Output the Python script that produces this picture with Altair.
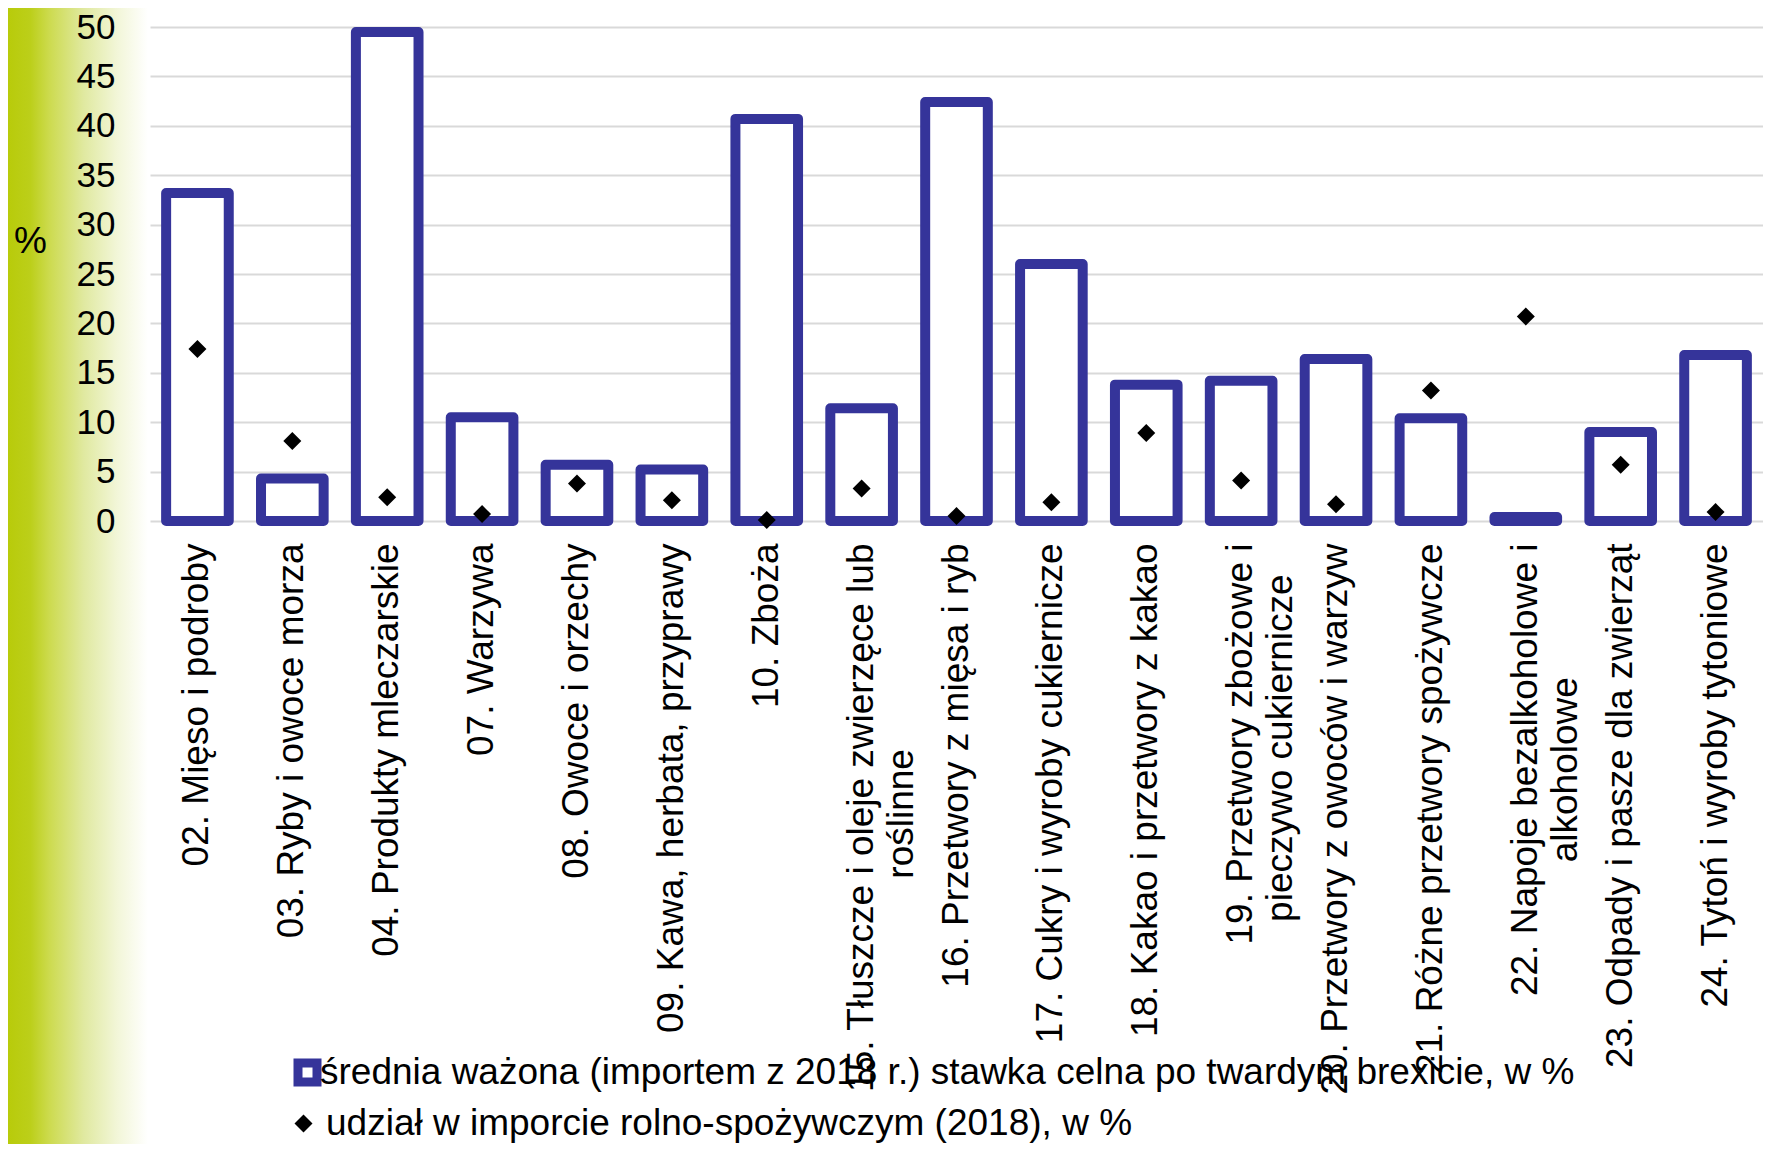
import altair as alt
import pandas as pd

categories = [
    "02. Mięso i podroby",
    "03. Ryby i owoce morza",
    "04. Produkty mleczarskie",
    "07. Warzywa",
    "08. Owoce i orzechy",
    "09. Kawa, herbata, przyprawy",
    "10. Zboża",
    "15. Tłuszcze i oleje zwierzęce lub\nroślinne",
    "16. Przetwory z mięsa i ryb",
    "17. Cukry i wyroby cukiernicze",
    "18. Kakao i przetwory z kakao",
    "19. Przetwory zbożowe i\npieczywo cukiernicze",
    "20. Przetwory z owoców i warzyw",
    "21. Różne przetwory spożywcze",
    "22. Napoje bezalkoholowe i\nalkoholowe",
    "23. Odpady i pasze dla zwierząt",
    "24. Tytoń i wyroby tytoniowe",
]
tariff = [33.2, 4.3, 49.5, 10.5, 5.7, 5.2, 40.7, 11.4, 42.4, 26.0, 13.8, 14.2, 16.4, 10.4, 0.4, 9.0, 16.8]
share = [17.4, 8.1, 2.4, 0.7, 3.8, 2.1, 0.1, 3.3, 0.5, 1.9, 8.9, 4.1, 1.7, 13.2, 20.7, 5.7, 0.9]
y_ticks = [0, 5, 10, 15, 20, 25, 30, 35, 40, 45, 50]
series_tariff = "średnia ważona (importem z 2018 r.) stawka celna po twardym brexicie, w %"
series_share = "udział w imporcie rolno-spożywczym (2018), w %"

FONT = "Liberation Sans, Arial, Helvetica, sans-serif"
BLUE = "#35349a"

# approximate Arial/Liberation Sans advance widths (per 1000 em) to centre wrapped label lines
_W = {c: 556 for c in "0123456789abdeghnopquóęąń"}
_W.update({" ": 278, ".": 278, ",": 278, "f": 278, "t": 278, "r": 333, "i": 222, "j": 222,
           "l": 222, "ł": 222, "m": 833, "w": 722, "c": 500, "k": 500, "s": 500, "v": 500,
           "x": 500, "y": 500, "z": 500, "ż": 500, "ś": 500, "ź": 500, "ć": 500,
           "T": 611, "P": 667, "N": 722})


def _width(s):
    return sum(_W.get(ch, 556) for ch in s)


def centre_lines(label):
    # wrapped labels: centre the shorter line under the longer one (as in the original)
    lines = label.split("\n")
    if len(lines) == 1:
        return label
    widest = max(_width(l) for l in lines)
    out = []
    for l in lines:
        n = int(round((widest - _width(l)) / 2 / 278))
        out.append(l + "\u00a0" * n + ("\u200b" if n else ""))
    return "\n".join(out)


display = [centre_lines(c) for c in categories]

df = pd.DataFrame({
    "cat": display,
    "tariff": tariff,
    "share": share,
    "s1": [series_tariff] * len(categories),
    "s2": [series_share] * len(categories),
})

xscale = alt.Scale(domain=display, paddingInner=0.34, paddingOuter=0.17)
yscale = alt.Scale(domain=[0, 50], nice=False)

grad = alt.Chart(alt.Data(values=[{"k": 1}])).mark_rect(
    fill=alt.Gradient(
        gradient="linear",
        stops=[
            alt.GradientStop(offset=0, color="#b8cb0a"),
            alt.GradientStop(offset=0.16, color="#bccf1a"),
            alt.GradientStop(offset=0.3, color="#cddb50"),
            alt.GradientStop(offset=0.54, color="#e0e9a0"),
            alt.GradientStop(offset=0.78, color="#f2f6d8"),
            alt.GradientStop(offset=1, color="#ffffff"),
        ],
        x1=0, x2=1, y1=0, y2=0,
    ),
    strokeWidth=0,
).encode(
    x=alt.value(-142), x2=alt.value(-2), y=alt.value(-19), y2=alt.value(1117)
)

bars = alt.Chart(df).mark_bar(
    fill="white", strokeWidth=10, strokeJoin="round"
).encode(
    x=alt.X("cat:N", sort=None, scale=xscale, title=None,
            axis=alt.Axis(labelAngle=-90, labelFontSize=37, labelPadding=22,
                          labelLimit=2000, labelLineHeight=40, labelColor="black",
                          labelFont=FONT, ticks=False, domain=False, grid=False,
                          labelExpr="split(datum.label, '\\n')")),
    y=alt.Y("tariff:Q", scale=yscale, title=None,
            axis=alt.Axis(orient="left", values=y_ticks, grid=True, labels=False,
                          ticks=False, domain=False, gridColor="#d9d9d9",
                          gridWidth=2, zindex=0)),
    stroke=alt.Stroke("s1:N", scale=alt.Scale(domain=[series_tariff], range=[BLUE]),
                      legend=alt.Legend(orient="none", legendX=139, legendY=1027,
                                        title=None, symbolType="square", symbolSize=361,
                                        symbolStrokeWidth=9, symbolFillColor="white",
                                        labelFontSize=37, labelFont=FONT, labelColor="black",
                                        labelLimit=3000, labelOffset=alt.ExprRef(expr="-6"),
                                        padding=0)),
)

points = alt.Chart(df).mark_point(
    filled=True, color="black", size=324, opacity=1
).encode(
    x=alt.X("cat:N", sort=None, scale=xscale, title=None),
    y=alt.Y("share:Q", scale=yscale,
            axis=alt.Axis(orient="left", values=y_ticks, grid=False, ticks=False,
                          domain=False, labelFontSize=35, labelPadding=35,
                          labelColor="black", labelFont=FONT, zindex=1,
                          title="%", titleAngle=0, titleX=-120, titleY=214,
                          titleFontSize=37, titleFontWeight="normal",
                          titleColor="black", titleFont=FONT,
                          titleAlign="center", titleBaseline="middle")),
    shape=alt.Shape("s2:N", scale=alt.Scale(domain=[series_share], range=["diamond"]),
                    legend=alt.Legend(orient="none", legendX=135, legendY=1078,
                                      title=None, symbolSize=324, symbolFillColor="black",
                                      symbolStrokeWidth=0,
                                      labelFontSize=37, labelFont=FONT, labelColor="black",
                                      labelLimit=3000, labelOffset=4, padding=0)),
)

chart = alt.layer(grad, bars, points).resolve_axis(y="independent").properties(
    width=1613,
    height=494,
    autosize=alt.AutoSizeParams(type="none"),
    padding={"left": 142, "top": 19, "right": 0, "bottom": 623},
    background="white",
).configure_view(stroke=None)

chart.save("out.html", embed_options={"renderer": "svg", "actions": False})
